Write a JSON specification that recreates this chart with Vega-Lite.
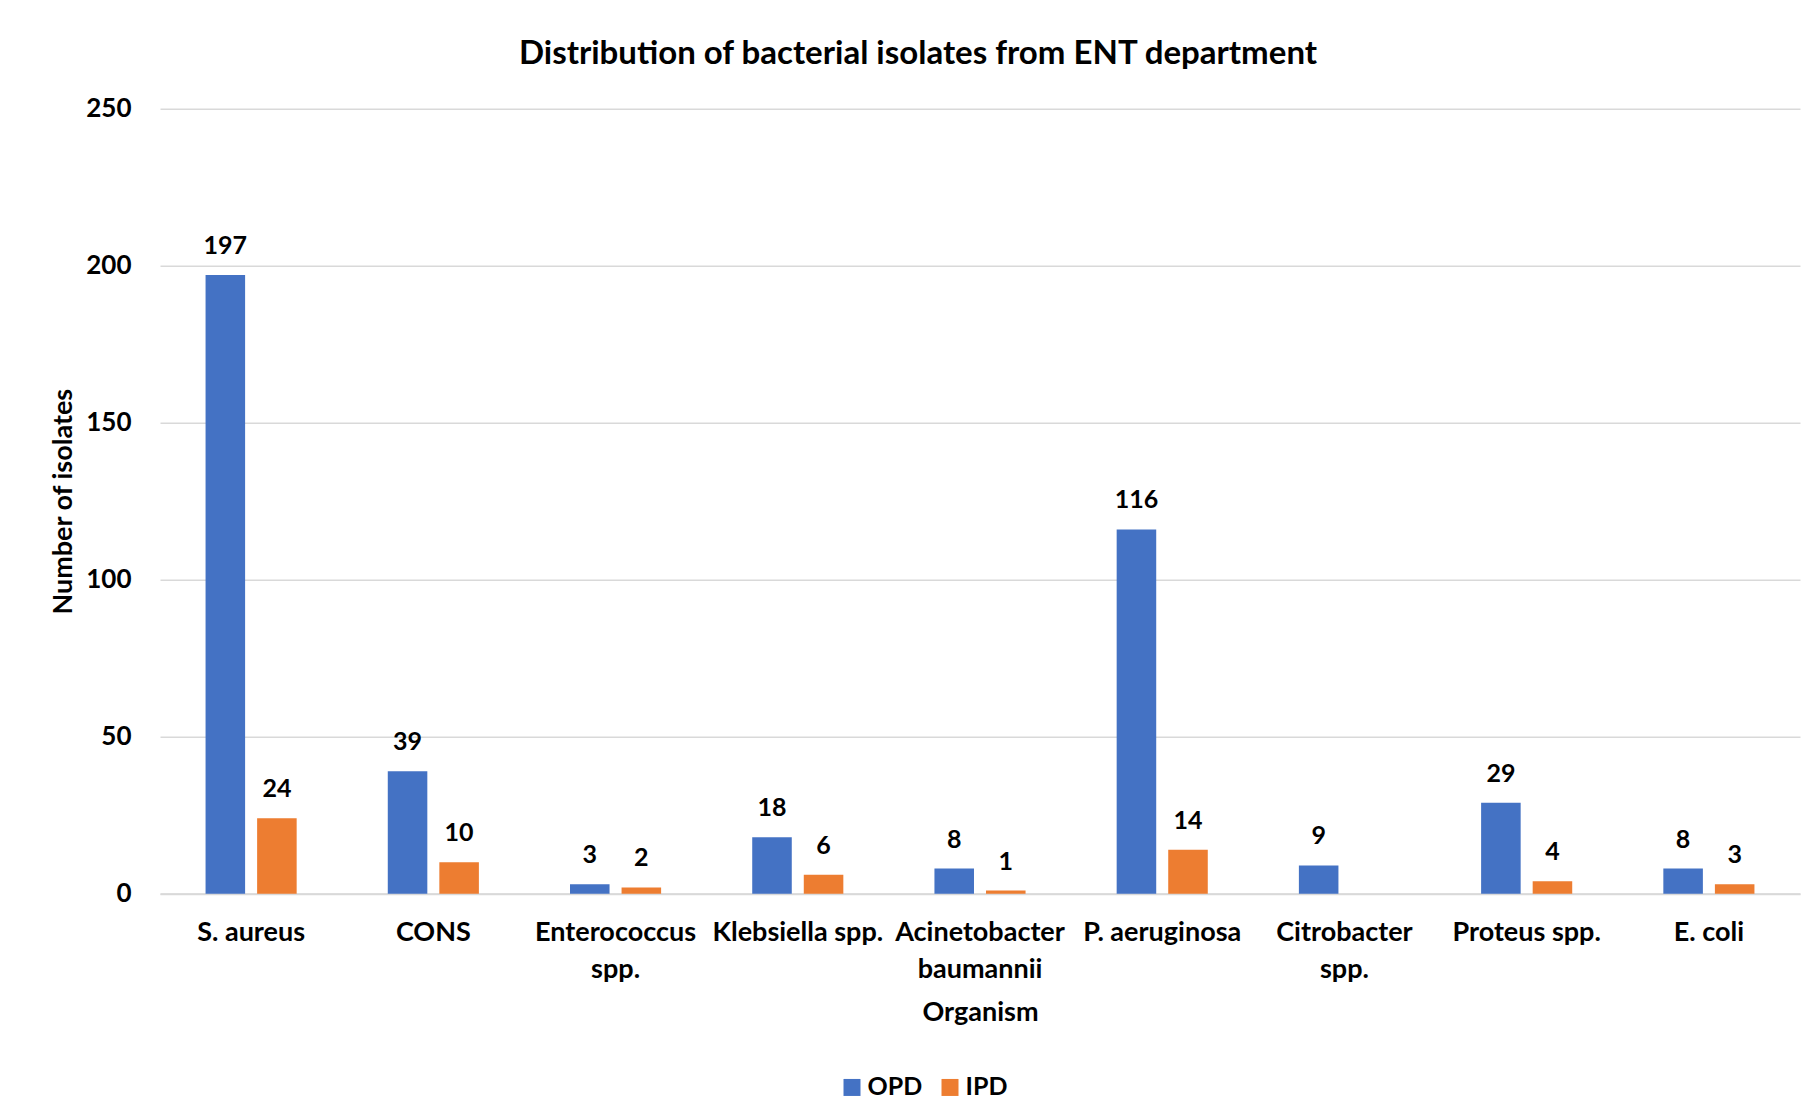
{
  "$schema": "https://vega.github.io/schema/vega-lite/v6.json",
  "width": 1640,
  "height": 785,
  "autosize": {"type": "none"},
  "padding": {"left": 160, "top": 108.7, "right": 7, "bottom": 226.3},
  "background": "white",
  "title": {
    "text": "Distribution of bacterial isolates from ENT department",
    "font": "Lato", "fontSize": 33, "fontWeight": "bold", "color": "#000000",
    "anchor": "middle", "dx": -62, "offset": 24.5
  },
  "data": {
    "values": [
      {"organism": "S. aureus", "type": "OPD", "count": 197},
      {"organism": "S. aureus", "type": "IPD", "count": 24},
      {"organism": "CONS", "type": "OPD", "count": 39},
      {"organism": "CONS", "type": "IPD", "count": 10},
      {"organism": "Enterococcus spp.", "type": "OPD", "count": 3},
      {"organism": "Enterococcus spp.", "type": "IPD", "count": 2},
      {"organism": "Klebsiella spp.", "type": "OPD", "count": 18},
      {"organism": "Klebsiella spp.", "type": "IPD", "count": 6},
      {"organism": "Acinetobacter baumannii", "type": "OPD", "count": 8},
      {"organism": "Acinetobacter baumannii", "type": "IPD", "count": 1},
      {"organism": "P. aeruginosa", "type": "OPD", "count": 116},
      {"organism": "P. aeruginosa", "type": "IPD", "count": 14},
      {"organism": "Citrobacter spp.", "type": "OPD", "count": 9},
      {"organism": "Proteus spp.", "type": "OPD", "count": 29},
      {"organism": "Proteus spp.", "type": "IPD", "count": 4},
      {"organism": "E. coli", "type": "OPD", "count": 8},
      {"organism": "E. coli", "type": "IPD", "count": 3}
    ]
  },
  "encoding": {
    "x": {
      "field": "organism", "type": "nominal",
      "sort": ["S. aureus", "CONS", "Enterococcus spp.", "Klebsiella spp.", "Acinetobacter baumannii", "P. aeruginosa", "Citrobacter spp.", "Proteus spp.", "E. coli"],
      "scale": {"paddingInner": 0.5, "paddingOuter": 0.25},
      "title": "Organism",
      "axis": {
        "labelAngle": 0, "ticks": false,
        "domain": true, "domainColor": "#d9d9d9", "domainWidth": 2,
        "labelFont": "Lato", "labelFontSize": 27, "labelFontWeight": "bold", "labelColor": "#000000",
        "labelPadding": 26, "labelLineHeight": 37, "labelLimit": 400,
        "labelExpr": "datum.label == 'Enterococcus spp.' ? ['Enterococcus', 'spp.'] : datum.label == 'Acinetobacter baumannii' ? ['Acinetobacter', 'baumannii'] : datum.label == 'Citrobacter spp.' ? ['Citrobacter', 'spp.'] : datum.label",
        "titleFont": "Lato", "titleFontSize": 27, "titleFontWeight": "bold", "titleColor": "#000000",
        "titleY": 118.5, "titleBaseline": "middle"
      }
    },
    "xOffset": {
      "field": "type", "type": "nominal", "sort": ["OPD", "IPD"],
      "scale": {"paddingInner": 0.233, "paddingOuter": 0}
    },
    "y": {
      "field": "count", "type": "quantitative",
      "scale": {"domain": [0, 250]},
      "title": "Number of isolates",
      "axis": {
        "values": [0, 50, 100, 150, 200, 250],
        "grid": true, "gridColor": "#d9d9d9", "gridWidth": 1.5,
        "domain": false, "ticks": false,
        "labelFont": "Lato", "labelFontSize": 26, "labelFontWeight": "bold", "labelColor": "#000000",
        "labelPadding": 29,
        "titleFont": "Lato", "titleFontSize": 27, "titleFontWeight": "bold", "titleColor": "#000000",
        "titleAngle": 270, "titleX": -97, "titleY": 392.5, "titleAlign": "center", "titleBaseline": "middle"
      }
    }
  },
  "layer": [
    {
      "mark": {"type": "bar"},
      "encoding": {
        "color": {
          "field": "type", "type": "nominal", "sort": ["OPD", "IPD"],
          "scale": {"domain": ["OPD", "IPD"], "range": ["#4472C4", "#ED7D31"]},
          "legend": {
            "orient": "none", "legendX": 679.5, "legendY": 966, "direction": "horizontal",
            "title": null, "symbolType": "square", "symbolSize": 289, "symbolStrokeWidth": 0,
            "labelFont": "Lato", "labelFontSize": 25, "labelFontWeight": "bold", "labelColor": "#000000",
            "labelOffset": 3, "columnPadding": 15
          }
        }
      }
    },
    {
      "mark": {"type": "text", "dy": -29, "baseline": "middle", "font": "Lato", "fontSize": 25, "fontWeight": "bold", "color": "#000000"},
      "encoding": {
        "text": {"field": "count", "type": "quantitative"}
      }
    }
  ],
  "config": {"view": {"stroke": null}}
}
